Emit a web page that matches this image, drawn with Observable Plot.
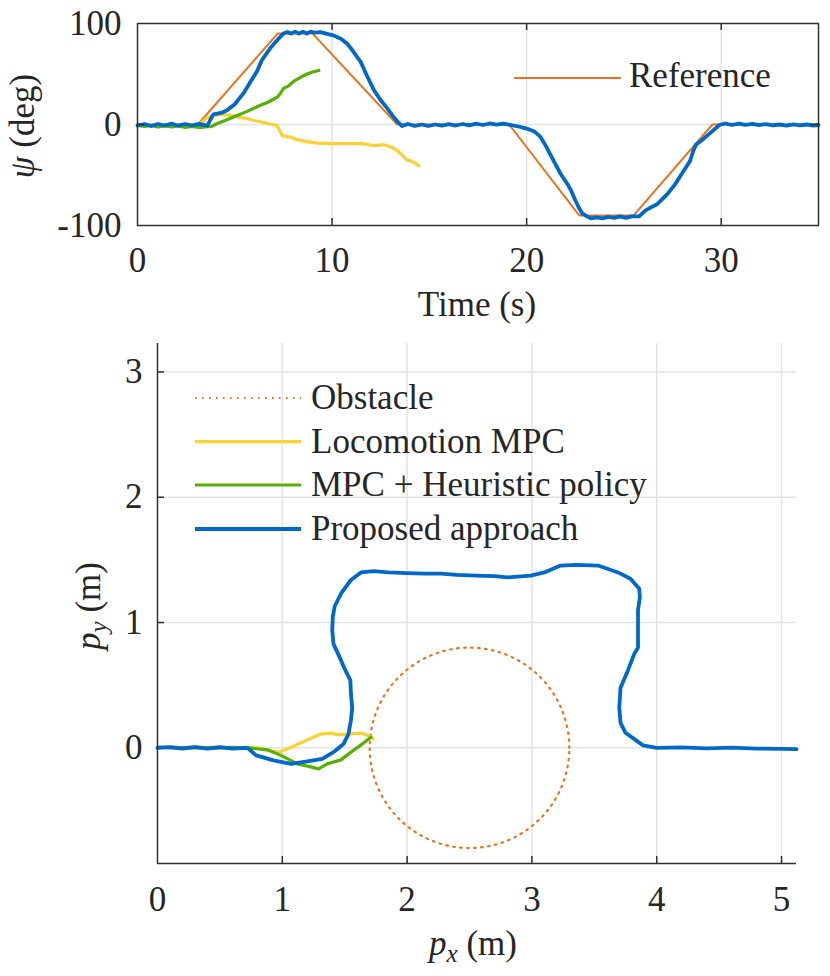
<!DOCTYPE html>
<html><head><meta charset="utf-8">
<script src="https://cdn.jsdelivr.net/npm/d3@7"></script>
<script src="https://cdn.jsdelivr.net/npm/@observablehq/plot@0.6"></script>
<style>
html,body{margin:0;padding:0;background:#fff;}
#chart{width:830px;}
#chart svg{display:block;}
</style></head><body><div id="chart"></div>
<script>
// ---------- Data: top panel (heading psi vs time) ----------
const refT   = [0, 3.1, 7.2, 9.0, 13.35, 19.1, 22.7, 25.5, 29.55, 35];
const refPsi = [0, 0, 90, 90, 0, 0, -90, -90, 0, 0];

const locoT   = [0, 0.5, 1, 1.5, 2, 2.5, 3, 3.3, 3.58, 4.27, 4.78, 5.3, 5.72, 5.98, 6.5, 7.18, 7.3, 7.44, 7.86, 8.21, 8.7, 9.24, 10, 11, 11.6, 12.15, 12.66, 13.0, 13.35, 13.7, 13.87, 14.04, 14.25, 14.46];
const locoPsi = [0, -0.5, 0, -0.8, 0, -0.5, -1, 2, 7, 10, 9, 7, 5.5, 4, 2, -1, -6, -11, -12.5, -15, -17, -18.5, -19, -19, -19, -21, -20, -22, -25.7, -32, -35.6, -36, -38, -41];

const heurT   = [0, 0.35, 0.7, 1.05, 1.4, 1.75, 2.1, 2.45, 2.8, 3.15, 3.5, 3.8, 4.1, 4.5, 5.0, 5.64, 6.2, 6.7, 7.18, 7.35, 7.52, 7.75, 8.04, 8.4, 8.72, 9.0, 9.32];
const heurPsi = [-1, -2, -1, -2.5, -1.5, -2.5, -1.5, -3, -2, -3, -2.5, -2, 1, 4, 8, 13, 18, 22, 27, 31, 36, 38, 43, 47, 50, 52, 53.5];

const propT   = [0, 0.35, 0.7, 1.05, 1.4, 1.75, 2.1, 2.45, 2.8, 3.15, 3.5, 3.6, 3.75, 3.9, 4.3, 4.6, 5.0, 5.45, 5.8, 6.15, 6.4, 6.84, 7.2, 7.5, 7.7, 7.9, 8.1, 8.3, 8.5, 8.7, 8.9, 9.1, 9.4, 9.7, 10.1, 10.45, 10.78, 11.1, 11.47, 11.8, 12.15, 12.5, 12.84, 13.1, 13.35, 13.6, 13.9, 14.25, 14.6, 14.95, 15.3, 15.65, 16.0, 16.35, 16.7, 17.05, 17.4, 17.75, 18.1, 18.45, 18.8, 19.2, 19.6, 20.0, 20.4, 20.7, 20.95, 21.2, 21.5, 21.75, 22.1, 22.3, 22.5, 22.7, 22.86, 23.1, 23.3, 23.6, 23.9, 24.2, 24.5, 24.8, 25.1, 25.4, 25.78, 26.0, 26.2, 26.7, 27.23, 27.6, 27.9, 28.2, 28.4, 28.55, 28.7, 29.1, 29.46, 29.7, 29.9, 30.2, 30.55, 30.9, 31.25, 31.6, 31.95, 32.3, 32.65, 33.0, 33.35, 33.7, 34.05, 34.4, 34.75, 35];
const propPsi = [-1, 0.5, -1.5, 0.5, -1, 0.8, -1.2, 0.5, -1, 0.6, -0.8, -1, 5, 10, 11.5, 14, 20, 31, 42, 53, 64, 76, 84, 90, 91.5, 90, 92, 90, 92, 90, 92, 91, 91.5, 90, 88, 85, 80, 72, 62, 48, 34, 24, 16, 9, 3, -1.5, 0.5, -1.5, 0, -1.5, 0, -1.2, 0.3, -1, 0.5, -0.8, 0.8, -0.5, 1, -0.2, 0.8, -0.5, -2, -4, -7, -12, -20, -29, -40, -49, -59, -66, -75, -83, -88, -91, -93, -92, -93, -91.5, -92.5, -91, -92.5, -91, -91, -87, -84, -79, -69, -60, -51, -42, -36, -27, -20, -14, -8, -4, -0.5, 1, -0.5, 0.8, -0.3, 0.6, -0.5, 0.3, -0.8, 0, -1, 0.2, -0.8, 0, -1, -0.5];

const timeTicks = [0, 10, 20, 30];
const psiTicks = [-100, 0, 100];
const psiTickLabels = ["-100", "0", "100"];

// ---------- Data: bottom panel (trajectory py vs px) ----------
const obstacleCenter = [2.5, 0];
const obstacleRadius = 0.8;

const locoPx = [0, 0.15, 0.3, 0.45, 0.6, 0.72, 0.8, 0.97, 1.04, 1.12, 1.2, 1.31, 1.39, 1.44, 1.52, 1.63, 1.68, 1.73];
const locoPy = [0, 0.006, -0.004, 0.005, -0.003, 0, 0, -0.035, -0.01, 0.027, 0.064, 0.11, 0.117, 0.106, 0.11, 0.117, 0.10, 0.072];

const heurPx = [0, 0.15, 0.3, 0.45, 0.6, 0.72, 0.88, 0.99, 1.12, 1.22, 1.29, 1.36, 1.47, 1.57, 1.64, 1.71];
const heurPy = [0.005, 0.0, 0.006, -0.002, 0.004, 0, -0.016, -0.06, -0.128, -0.15, -0.168, -0.128, -0.096, -0.02, 0.03, 0.085];

const propPx = [0, 0.1, 0.2, 0.3, 0.4, 0.5, 0.6, 0.72, 0.79, 0.93, 1.07, 1.2, 1.32, 1.41, 1.49, 1.53, 1.55, 1.56, 1.55, 1.545, 1.50, 1.47, 1.41, 1.40, 1.405, 1.42, 1.47, 1.55, 1.63, 1.73, 1.85, 2.0, 2.15, 2.27, 2.4, 2.55, 2.7, 2.8, 2.99, 3.10, 3.23, 3.35, 3.53, 3.69, 3.79, 3.86, 3.865, 3.85, 3.85, 3.85, 3.82, 3.77, 3.71, 3.70, 3.71, 3.75, 3.89, 4.0, 4.2, 4.4, 4.6, 4.8, 5.0, 5.12];
const propPy = [0, 0.006, -0.006, 0.006, -0.006, 0.006, -0.006, 0, -0.06, -0.10, -0.128, -0.107, -0.088, -0.035, 0.03, 0.11, 0.22, 0.32, 0.43, 0.54, 0.63, 0.70, 0.83, 0.94, 1.05, 1.13, 1.23, 1.34, 1.40, 1.41, 1.40, 1.395, 1.39, 1.39, 1.38, 1.375, 1.37, 1.36, 1.375, 1.40, 1.455, 1.46, 1.455, 1.40, 1.35, 1.27, 1.20, 1.10, 0.99, 0.80, 0.75, 0.62, 0.48, 0.32, 0.20, 0.12, 0.02, 0.0, 0.004, -0.004, 0.002, -0.006, -0.008, -0.01];

const pxTicks = [0, 1, 2, 3, 4, 5];
const pyTicks = [0, 1, 2, 3];

// ---------- Styles ----------
const FONT = "Liberation Serif, DejaVu Serif, Noto Serif, Tinos, serif";
const FS = 35;
const ORANGE = "#E8731E", YELLOW = "#FDD035", GREEN = "#55B000", BLUE = "#0068C8";
const GRID = "#e2e2e2", AXIS = "#303030";

const zip = (a, b) => a.map((v, i) => ({x: v, y: b[i]}));

// ---------- Top panel ----------
const tMin = 0, tMax = 35, pMin = -100, pMax = 100;
const topPlot = Plot.plot({
  width: 830, height: 330,
  marginLeft: 137, marginRight: 12, marginTop: 23, marginBottom: 105,
  style: {fontFamily: FONT, fontSize: FS + "px", color: "#262626", background: "white", overflow: "visible"},
  x: {domain: [tMin, tMax]},
  y: {domain: [pMin, pMax]},
  marks: [
    Plot.ruleX(timeTicks.filter(d => d > tMin), {stroke: GRID, strokeWidth: 1.5}),
    Plot.ruleY([0], {stroke: GRID, strokeWidth: 1.5}),
    Plot.line(zip(refT, refPsi), {x: "x", y: "y", stroke: ORANGE, strokeWidth: 2}),
    Plot.line(zip(locoT, locoPsi), {x: "x", y: "y", stroke: YELLOW, strokeWidth: 3.2}),
    Plot.line(zip(heurT, heurPsi), {x: "x", y: "y", stroke: GREEN, strokeWidth: 3.2}),
    Plot.line(zip(propT, propPsi), {x: "x", y: "y", stroke: BLUE, strokeWidth: 3.8}),
    Plot.frame({stroke: AXIS, strokeWidth: 1.5}),
    Plot.ruleX(timeTicks.filter(d => d > tMin), {y1: pMin, y2: pMin + 7, stroke: AXIS, strokeWidth: 1.5}),
    Plot.ruleX(timeTicks.filter(d => d > tMin), {y1: pMax, y2: pMax - 7, stroke: AXIS, strokeWidth: 1.5}),
    Plot.ruleY([0], {x1: tMin, x2: tMin + 0.36, stroke: AXIS, strokeWidth: 1.5}),
    Plot.ruleY([0], {x1: tMax, x2: tMax - 0.36, stroke: AXIS, strokeWidth: 1.5}),
    Plot.axisX({ticks: timeTicks, tickSize: 0, tickPadding: 22, label: null, tickFormat: d => String(d)}),
    Plot.axisY({ticks: psiTicks, tickSize: 0, tickPadding: 16, label: null, tickFormat: d => psiTickLabels[psiTicks.indexOf(d)]})
  ]
});

// ---------- Bottom panel ----------
const xMin = 0, xMax = 5.12, yMin = -0.923, yMax = 3.227;
const circle = d3.range(0, 361, 2).map(a => ({
  x: obstacleCenter[0] + obstacleRadius * Math.cos(a * Math.PI / 180),
  y: obstacleCenter[1] + obstacleRadius * Math.sin(a * Math.PI / 180)
}));
const botPlot = Plot.plot({
  width: 830, height: 646,
  marginLeft: 157, marginRight: 34, marginTop: 13, marginBottom: 113,
  style: {fontFamily: FONT, fontSize: FS + "px", color: "#262626", background: "white", overflow: "visible"},
  x: {domain: [xMin, xMax]},
  y: {domain: [yMin, yMax]},
  marks: [
    Plot.ruleX(pxTicks.filter(d => d > xMin), {stroke: GRID, strokeWidth: 1.5}),
    Plot.ruleY(pyTicks, {stroke: GRID, strokeWidth: 1.5}),
    Plot.line(circle, {x: "x", y: "y", stroke: ORANGE, strokeWidth: 2.2, strokeDasharray: "1.6,5.4"}),
    Plot.line(zip(locoPx, locoPy), {x: "x", y: "y", stroke: YELLOW, strokeWidth: 3.2}),
    Plot.line(zip(heurPx, heurPy), {x: "x", y: "y", stroke: GREEN, strokeWidth: 3.2}),
    Plot.line(zip(propPx, propPy), {x: "x", y: "y", stroke: BLUE, strokeWidth: 3.8}),
    Plot.ruleX([xMin], {y1: yMin, y2: yMax, stroke: AXIS, strokeWidth: 1.5}),
    Plot.ruleY([yMin], {x1: xMin, x2: xMax, stroke: AXIS, strokeWidth: 1.5}),
    Plot.ruleX(pxTicks.filter(d => d > xMin), {y1: yMin, y2: yMin + 0.056, stroke: AXIS, strokeWidth: 1.5}),
    Plot.ruleY(pyTicks.filter(d => d > 0), {x1: xMin, x2: xMin + 0.056, stroke: AXIS, strokeWidth: 1.5}),
    Plot.axisX({ticks: pxTicks, tickSize: 0, tickPadding: 23, label: null, tickFormat: d => String(d)}),
    Plot.axisY({ticks: pyTicks, tickSize: 0, tickPadding: 15, label: null, tickFormat: d => String(d)})
  ]
});

// ---------- Labels & legends ----------
function addText(svg, x, y, parts, opts = {}) {
  const t = d3.select(svg).append("text")
    .attr("font-family", FONT).attr("font-size", FS).attr("fill", "#262626")
    .attr("text-anchor", opts.anchor || "middle");
  if (opts.rotate) t.attr("transform", `translate(${x},${y}) rotate(-90)`);
  else t.attr("x", x).attr("y", y);
  for (const p of parts) {
    const s = t.append("tspan").text(p.text);
    if (p.italic) s.attr("font-style", "italic");
    if (p.size) s.attr("font-size", p.size);
    if (p.dy) s.attr("dy", p.dy);
  }
  return t;
}
addText(topPlot, 477, 316, [{text: "Time (s)"}]);
addText(topPlot, 34, 126, [{text: "ψ", italic: true}, {text: " (deg)"}], {rotate: true});
d3.select(topPlot).append("line").attr("x1", 514).attr("x2", 621).attr("y1", 78).attr("y2", 78).attr("stroke", ORANGE).attr("stroke-width", 2);
addText(topPlot, 629, 87, [{text: "Reference"}], {anchor: "start"});

addText(botPlot, 473, 625, [{text: "p", italic: true}, {text: "x", italic: true, size: 25, dy: 7}, {text: " (m)", dy: -7}]);
addText(botPlot, 100, 276, [{text: "p", italic: true}, {text: "y", italic: true, size: 25, dy: 7}, {text: " (m)", dy: -7}], {rotate: true});
const legendItems = [
  {label: "Obstacle", color: ORANGE, width: 2.2, dash: "1.6,5.4"},
  {label: "Locomotion MPC", color: YELLOW, width: 3.2},
  {label: "MPC + Heuristic policy", color: GREEN, width: 3.2},
  {label: "Proposed approach", color: BLUE, width: 3.8}
];
const rowY = [68, 111.7, 155, 199];
legendItems.forEach((it, i) => {
  const l = d3.select(botPlot).append("line").attr("x1", 195).attr("x2", 301)
    .attr("y1", rowY[i]).attr("y2", rowY[i]).attr("stroke", it.color).attr("stroke-width", it.width);
  if (it.dash) l.attr("stroke-dasharray", it.dash);
  addText(botPlot, 311, rowY[i] + 11, [{text: it.label}], {anchor: "start"});
});

document.getElementById("chart").append(topPlot, botPlot);
</script></body></html>
